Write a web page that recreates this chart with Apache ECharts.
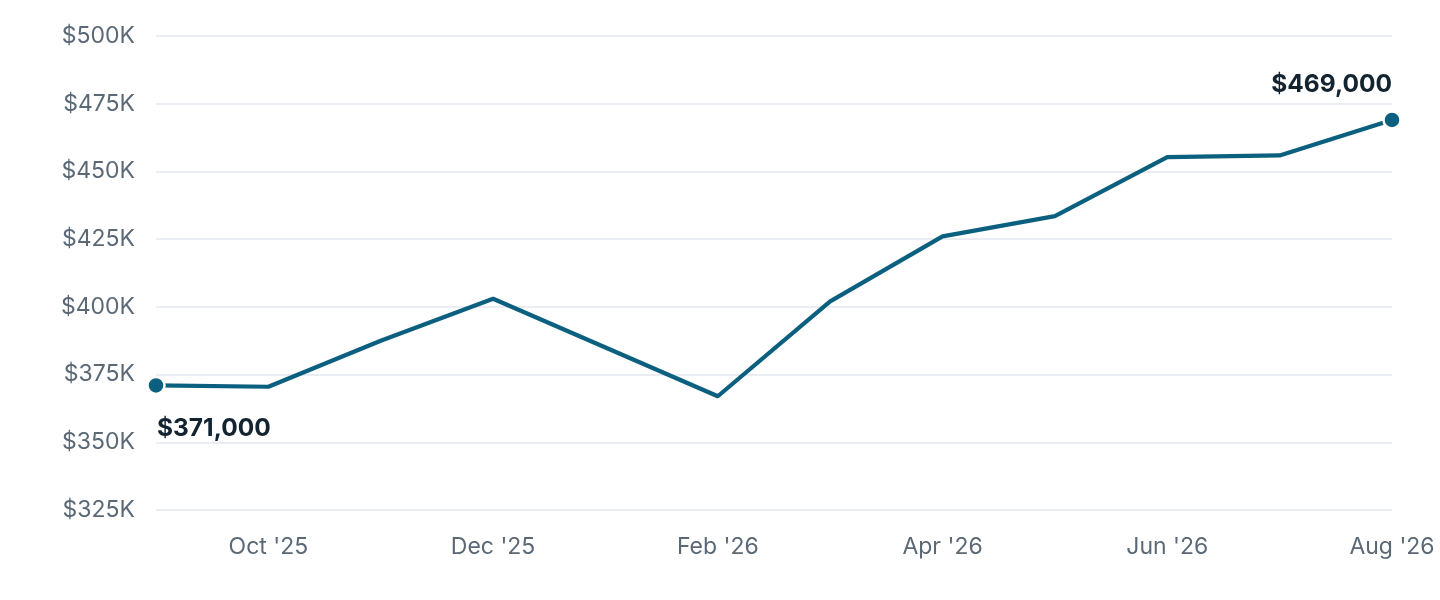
<!DOCTYPE html>
<html>
<head>
<meta charset="utf-8">
<script src="https://cdn.jsdelivr.net/npm/echarts@6/dist/echarts.min.js"></script>
<style>
  html, body { margin: 0; padding: 0; background: #fff; }
  #main { width: 1440px; height: 600px; }
</style>
</head>
<body>
<div id="main"></div>
<script>
var months = ["Sep '25", "Oct '25", "Nov '25", "Dec '25", "Jan '26", "Feb '26",
              "Mar '26", "Apr '26", "May '26", "Jun '26", "Jul '26", "Aug '26"];
var prices = [371000, 370500, 387500, 403000, 385000, 367000,
              402000, 426000, 433500, 455300, 455900, 469000];
var yTicks = { min: 325000, max: 500000, step: 25000 };

var lineColor = '#0b5f7f';
var font = 'Inter, "Noto Sans", sans-serif';

function money(v) {
    return '$' + v.toLocaleString('en-US');
}

var data = prices.map(function(v, i) {
    var item = { value: v, symbolSize: 0, label: { show: false } };
    if (i == 0) {
        item.symbolSize = 17;
        item.label = {
            show: true, position: 'bottom', align: 'left', offset: [1, 16],
            formatter: function(p) { return money(p.value); }
        };
    } else if (i == prices.length - 1) {
        item.symbolSize = 17;
        item.label = {
            show: true, position: 'top', align: 'right', offset: [0, -8],
            formatter: function(p) { return money(p.value); }
        };
    }
    return item;
});

var chart = echarts.init(document.getElementById('main'));
chart.setOption({
    animation: false,
    grid: { left: 156, right: 48, top: 36, bottom: 90 },
    xAxis: {
        type: 'category',
        data: months,
        boundaryGap: false,
        axisLine: { show: false },
        axisTick: { show: false },
        axisLabel: {
            margin: 26,
            color: '#5b6976',
            fontSize: 23,
            fontFamily: font,
            interval: function(i) { return i % 2 == 1; }
        }
    },
    yAxis: {
        type: 'value',
        min: yTicks.min,
        max: yTicks.max,
        interval: yTicks.step,
        axisLabel: {
            margin: 21,
            color: '#5b6976',
            fontSize: 23,
            fontFamily: font,
            formatter: function(v) { return '$' + (v / 1000) + 'K'; }
        },
        splitLine: { lineStyle: { color: '#e3e7ec', width: 1.5 } }
    },
    series: [{
        type: 'line',
        data: data,
        symbol: 'circle',
        showSymbol: true,
        lineStyle: { color: lineColor, width: 4.2 },
        itemStyle: { color: lineColor, borderColor: '#fff', borderWidth: 2.5 },
        label: {
            color: '#13232f',
            fontSize: 24.5,
            fontWeight: 'bold',
            fontFamily: font
        },
        emphasis: { disabled: true }
    }]
});
</script>
</body>
</html>
